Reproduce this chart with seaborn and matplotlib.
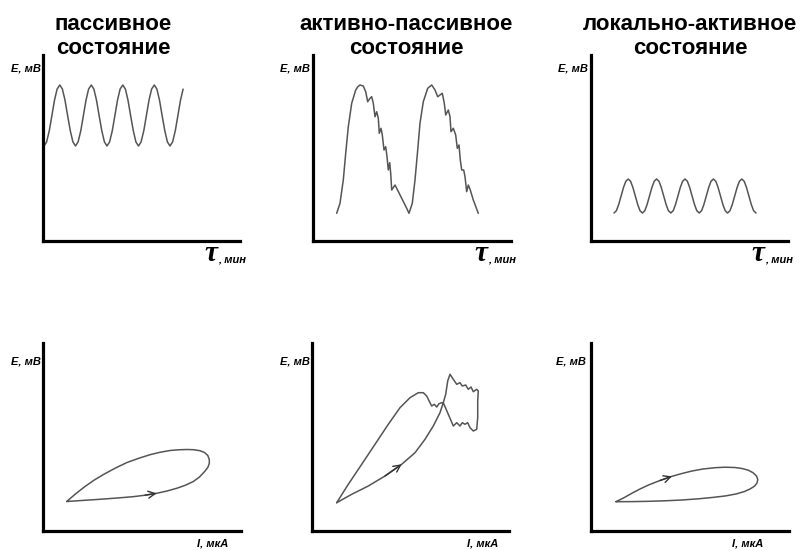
import matplotlib
matplotlib.use("Agg")
import matplotlib.pyplot as plt
import seaborn as sns
import pandas as pd

# ---------------- data (arbitrary units) ----------------
titles = ["пассивное\nсостояние", "активно-пассивное\nсостояние", "локально-активное\nсостояние"]
e_label = "E, мВ"
tau_symbol = "τ"
tau_unit = ", мин"
i_label = "I, мкА"

# top row: potential E vs time tau
passive_t = [1.0, 3.6, 6.3, 8.9, 11.5, 14.1, 16.8, 19.4, 22.0, 24.6, 27.3, 29.9,
             32.5, 35.1, 37.8, 40.4, 43.0, 45.6, 48.3, 50.9, 53.5, 56.1, 58.8, 61.4,
             64.0, 66.6, 69.3, 71.9, 74.5, 77.1, 79.8, 82.4, 85.0, 87.6, 90.3, 92.9,
             95.5, 98.1, 100.8, 103.4, 106.0, 108.6, 111.3, 113.9, 116.5, 119.1, 121.8, 124.4,
             127.0, 129.6, 132.3, 134.9, 137.5, 140.1]
passive_E = [95, 99.1, 110.3, 125.5, 140.8, 151.9, 156, 151.9, 140.8, 125.5, 110.3, 99.1,
             95, 99.1, 110.3, 125.5, 140.8, 151.9, 156, 151.9, 140.8, 125.5, 110.3, 99.1,
             95, 99.1, 110.3, 125.5, 140.8, 151.9, 156, 151.9, 140.8, 125.5, 110.3, 99.1,
             95, 99.1, 110.3, 125.5, 140.8, 151.9, 156, 151.9, 140.8, 125.5, 110.3, 99.1,
             95, 99.1, 110.3, 125.5, 140.8, 151.9]

actpas_t = [23.7, 27.0, 30.3, 32.7, 35.3, 38.7, 42.7, 44.8, 47.0, 50.3, 52.7, 54.7,
            57.0, 58.7, 60.3, 62.0, 63.7, 65.3, 66.3, 68.0, 69.3, 71.0, 72.7, 74.0,
            75.3, 76.7, 77.7, 78.7, 82.0, 83.7, 88.7, 93.7, 96.0, 99.3, 102.0, 104.7,
            107.0, 110.3, 114.7, 118.7, 122.0, 124.7, 127.0, 129.3, 131.3, 132.7, 135.3, 137.0,
            138.0, 140.3, 142.7, 144.3, 146.0, 147.3, 148.7, 150.7, 152.0, 153.7, 155.3, 157.3,
            160.3, 165.3]
actpas_E = [27.7, 37.7, 61.0, 87.7, 114.3, 137.7, 151.0, 154.2, 156.0, 155.0, 149.3, 139.3,
            142.7, 144.3, 137.7, 124.3, 129.3, 122.7, 107.7, 112.7, 106.0, 91.0, 94.3, 84.3,
            71.0, 78.3, 67.7, 51.0, 56.0, 52.7, 42.7, 32.7, 27.7, 37.7, 61.0, 91.0,
            117.7, 139.3, 152.7, 156.0, 151.0, 144.3, 146.0, 147.7, 137.7, 126.0, 131.0, 124.3,
            109.3, 112.7, 106.0, 92.7, 96.0, 81.0, 71.0, 71.0, 64.3, 49.3, 56.0, 51.0,
            41.0, 27.7]

local_t = [23.0, 25.4, 27.7, 30.1, 32.5, 34.8, 37.2, 39.6, 41.9, 44.3, 46.7, 49.0,
           51.4, 53.8, 56.1, 58.5, 60.9, 63.2, 65.6, 68.0, 70.3, 72.7, 75.1, 77.4,
           79.8, 82.2, 84.5, 86.9, 89.3, 91.6, 94.0, 96.4, 98.7, 101.1, 103.5, 105.8,
           108.2, 110.6, 112.9, 115.3, 117.7, 120.0, 122.4, 124.8, 127.1, 129.5, 131.9, 134.2,
           136.6, 139.0, 141.3, 143.7, 146.1, 148.4, 150.8, 153.2, 155.5, 157.9, 160.3, 162.6,
           165.0]
local_E = [28, 30.3, 36.5, 45, 53.5, 59.7, 62, 59.7, 53.5, 45, 36.5, 30.3,
           28, 30.3, 36.5, 45, 53.5, 59.7, 62, 59.7, 53.5, 45, 36.5, 30.3,
           28, 30.3, 36.5, 45, 53.5, 59.7, 62, 59.7, 53.5, 45, 36.5, 30.3,
           28, 30.3, 36.5, 45, 53.5, 59.7, 62, 59.7, 53.5, 45, 36.5, 30.3,
           28, 30.3, 36.5, 45, 53.5, 59.7, 62, 59.7, 53.5, 45, 36.5, 30.3,
           28]

# bottom row: potential E vs current I (closed loops, in traversal order)
passive_I = [23.7, 40, 57, 73, 90, 102, 113.7, 124, 133.7, 142.5, 150.3, 156.5, 161.5,
             164.8, 166.3, 166.3, 164.8, 161.5, 157, 150.5, 143.7, 135.5, 127, 117, 107,
             96, 84, 72.5, 61, 51, 42, 33, 23.7]
passive_EI = [29.5, 30.6, 31.7, 32.9, 34.3, 35.8, 37.7, 40, 42.7, 45.8, 49.5, 54, 59.3,
              63.5, 67.5, 71.5, 75.5, 78.5, 80.3, 81.3, 81.5, 81.2, 80.5, 78.7, 76.3,
              72.8, 68.5, 63, 56.8, 50.8, 44.5, 37.5, 29.5]
passive_arrow = 6

actpas_I = [24.7, 39.7, 56.3, 73.0, 89.7, 103.0, 113.0, 121.3, 128.0, 131.3, 133.7, 135.7,
            138.0, 141.3, 144.7, 148.0, 150.3, 153.7, 156.3, 159.0, 161.3, 164.7, 166.3, 165.7,
            165.7, 164.7, 161.3, 158.0, 155.7, 153.0, 150.3, 148.0, 144.7, 141.3, 136.3, 131.3,
            129.7, 127.0, 124.7, 122.3, 119.7, 118.0, 114.7, 111.3, 106.3, 98.0, 88.0, 76.3,
            63.0, 49.7, 36.3, 24.7]
actpas_EI = [28.3, 36.7, 45.0, 55.0, 66.7, 78.3, 91.7, 105.0, 118.3, 128.3, 136.7, 150.0,
             156.7, 151.7, 146.7, 148.3, 145.0, 146.0, 141.7, 144.0, 139.3, 141.7, 140.0, 130.0,
             113.3, 101.7, 100.0, 103.3, 108.3, 106.7, 108.3, 105.0, 108.3, 105.0, 116.7, 128.3,
             128.3, 127.3, 124.0, 126.7, 125.0, 128.3, 135.0, 138.3, 138.3, 133.3, 123.3, 106.7,
             86.7, 66.7, 46.7, 28.3]
actpas_arrow = 4

local_I = [25, 33, 41, 49, 57.5, 69, 81, 91, 101, 112, 124, 134, 144, 151, 157.3, 162,
           165.5, 166.8, 166, 163.5, 159, 153.5, 145, 134, 121, 107.5, 91, 74, 58, 42, 25]
local_EI = [29.3, 33.3, 37.8, 42, 46, 50.5, 54.7, 57.5, 60, 62, 63.3, 63.8, 63.5, 62.5,
            60.8, 58.3, 55, 51.5, 48, 44.8, 42, 39.5, 37, 35, 33.5, 32.2, 31, 30.2, 29.7,
            29.4, 29.3]
local_arrow = 6

# ---------------- drawing ----------------
sns.set_style("white")
plt.rcParams["font.family"] = ["Liberation Sans", "DejaVu Sans"]

W, H = 802, 550
fig = plt.figure(figsize=(W / 100, H / 100), dpi=100)
fig.patch.set_facecolor("white")

LINE = "#555555"


def fpos(x, y):
    return x / W, 1 - y / H


def make_axes(x0, ybot, ytop, x1):
    ax = fig.add_axes([x0 / W, 1 - ybot / H, (x1 - x0) / W, (ybot - ytop) / H])
    ax.set_xlim(0, x1 - x0)
    ax.set_ylim(0, ybot - ytop)
    for s in ["top", "right"]:
        ax.spines[s].set_visible(False)
    for s in ["left", "bottom"]:
        ax.spines[s].set_linewidth(2.3)
        ax.spines[s].set_color("black")
    ax.set_xticks([])
    ax.set_yticks([])
    ax.set_facecolor("none")
    return ax


top_cols = [(43, 240), (313, 511), (591, 788)]
bot_cols = [(43, 241), (312, 509), (591, 789)]
top_series = [(passive_t, passive_E), (actpas_t, actpas_E), (local_t, local_E)]
bot_series = [(passive_I, passive_EI, passive_arrow),
              (actpas_I, actpas_EI, actpas_arrow),
              (local_I, local_EI, local_arrow)]

for (x0, x1), (tx, ty) in zip(top_cols, top_series):
    ax = make_axes(x0, 241, 55, x1)
    df = pd.DataFrame({"t": tx, "E": ty})
    sns.lineplot(data=df, x="t", y="E", sort=False, estimator=None, ax=ax,
                 color=LINE, linewidth=1.1)
    ax.set_xlabel("")
    ax.set_ylabel("")

for (x0, x1), (ix, iy, ia) in zip(bot_cols, bot_series):
    ax = make_axes(x0, 531, 343, x1)
    df = pd.DataFrame({"I": ix, "E": iy})
    sns.lineplot(data=df, x="I", y="E", sort=False, estimator=None, ax=ax,
                 color=LINE, linewidth=1.1)
    ax.annotate("", xy=(ix[ia], iy[ia]), xytext=(ix[ia - 1], iy[ia - 1]),
                arrowprops=dict(arrowstyle="->,head_length=0.5,head_width=0.25",
                                color="#333333", lw=1.0, shrinkA=0, shrinkB=0))
    ax.set_xlabel("")
    ax.set_ylabel("")

# titles
for cx, title in zip([113.5, 406, 690], titles):
    l1, l2 = title.split("\n")
    fig.text(*fpos(cx, 30), l1, ha="center", va="baseline", fontsize=16,
             fontweight="bold", color="black")
    fig.text(*fpos(cx, 54), l2, ha="center", va="baseline", fontsize=16,
             fontweight="bold", color="black")

lab_kw = dict(fontsize=8, fontweight="bold", style="italic", color="black")
# E labels
for xr in [41, 310, 588]:
    fig.text(*fpos(xr, 71), e_label, ha="right", va="baseline", **lab_kw)
for xr in [41, 310, 586]:
    fig.text(*fpos(xr, 364), e_label, ha="right", va="baseline", **lab_kw)

# tau labels
for xl in [204, 474, 751]:
    fig.text(*fpos(xl, 261), tau_symbol, ha="left", va="baseline", fontsize=21,
             style="italic", fontweight="bold",
             family=["Liberation Serif", "DejaVu Serif"], color="black")
    fig.text(*fpos(xl + 14, 262), tau_unit, ha="left", va="baseline", **lab_kw)

# current labels
for xr in [228, 498, 763]:
    fig.text(*fpos(xr, 546), i_label, ha="right", va="baseline", **lab_kw)

fig.savefig("out.png", dpi=100, facecolor="white")
